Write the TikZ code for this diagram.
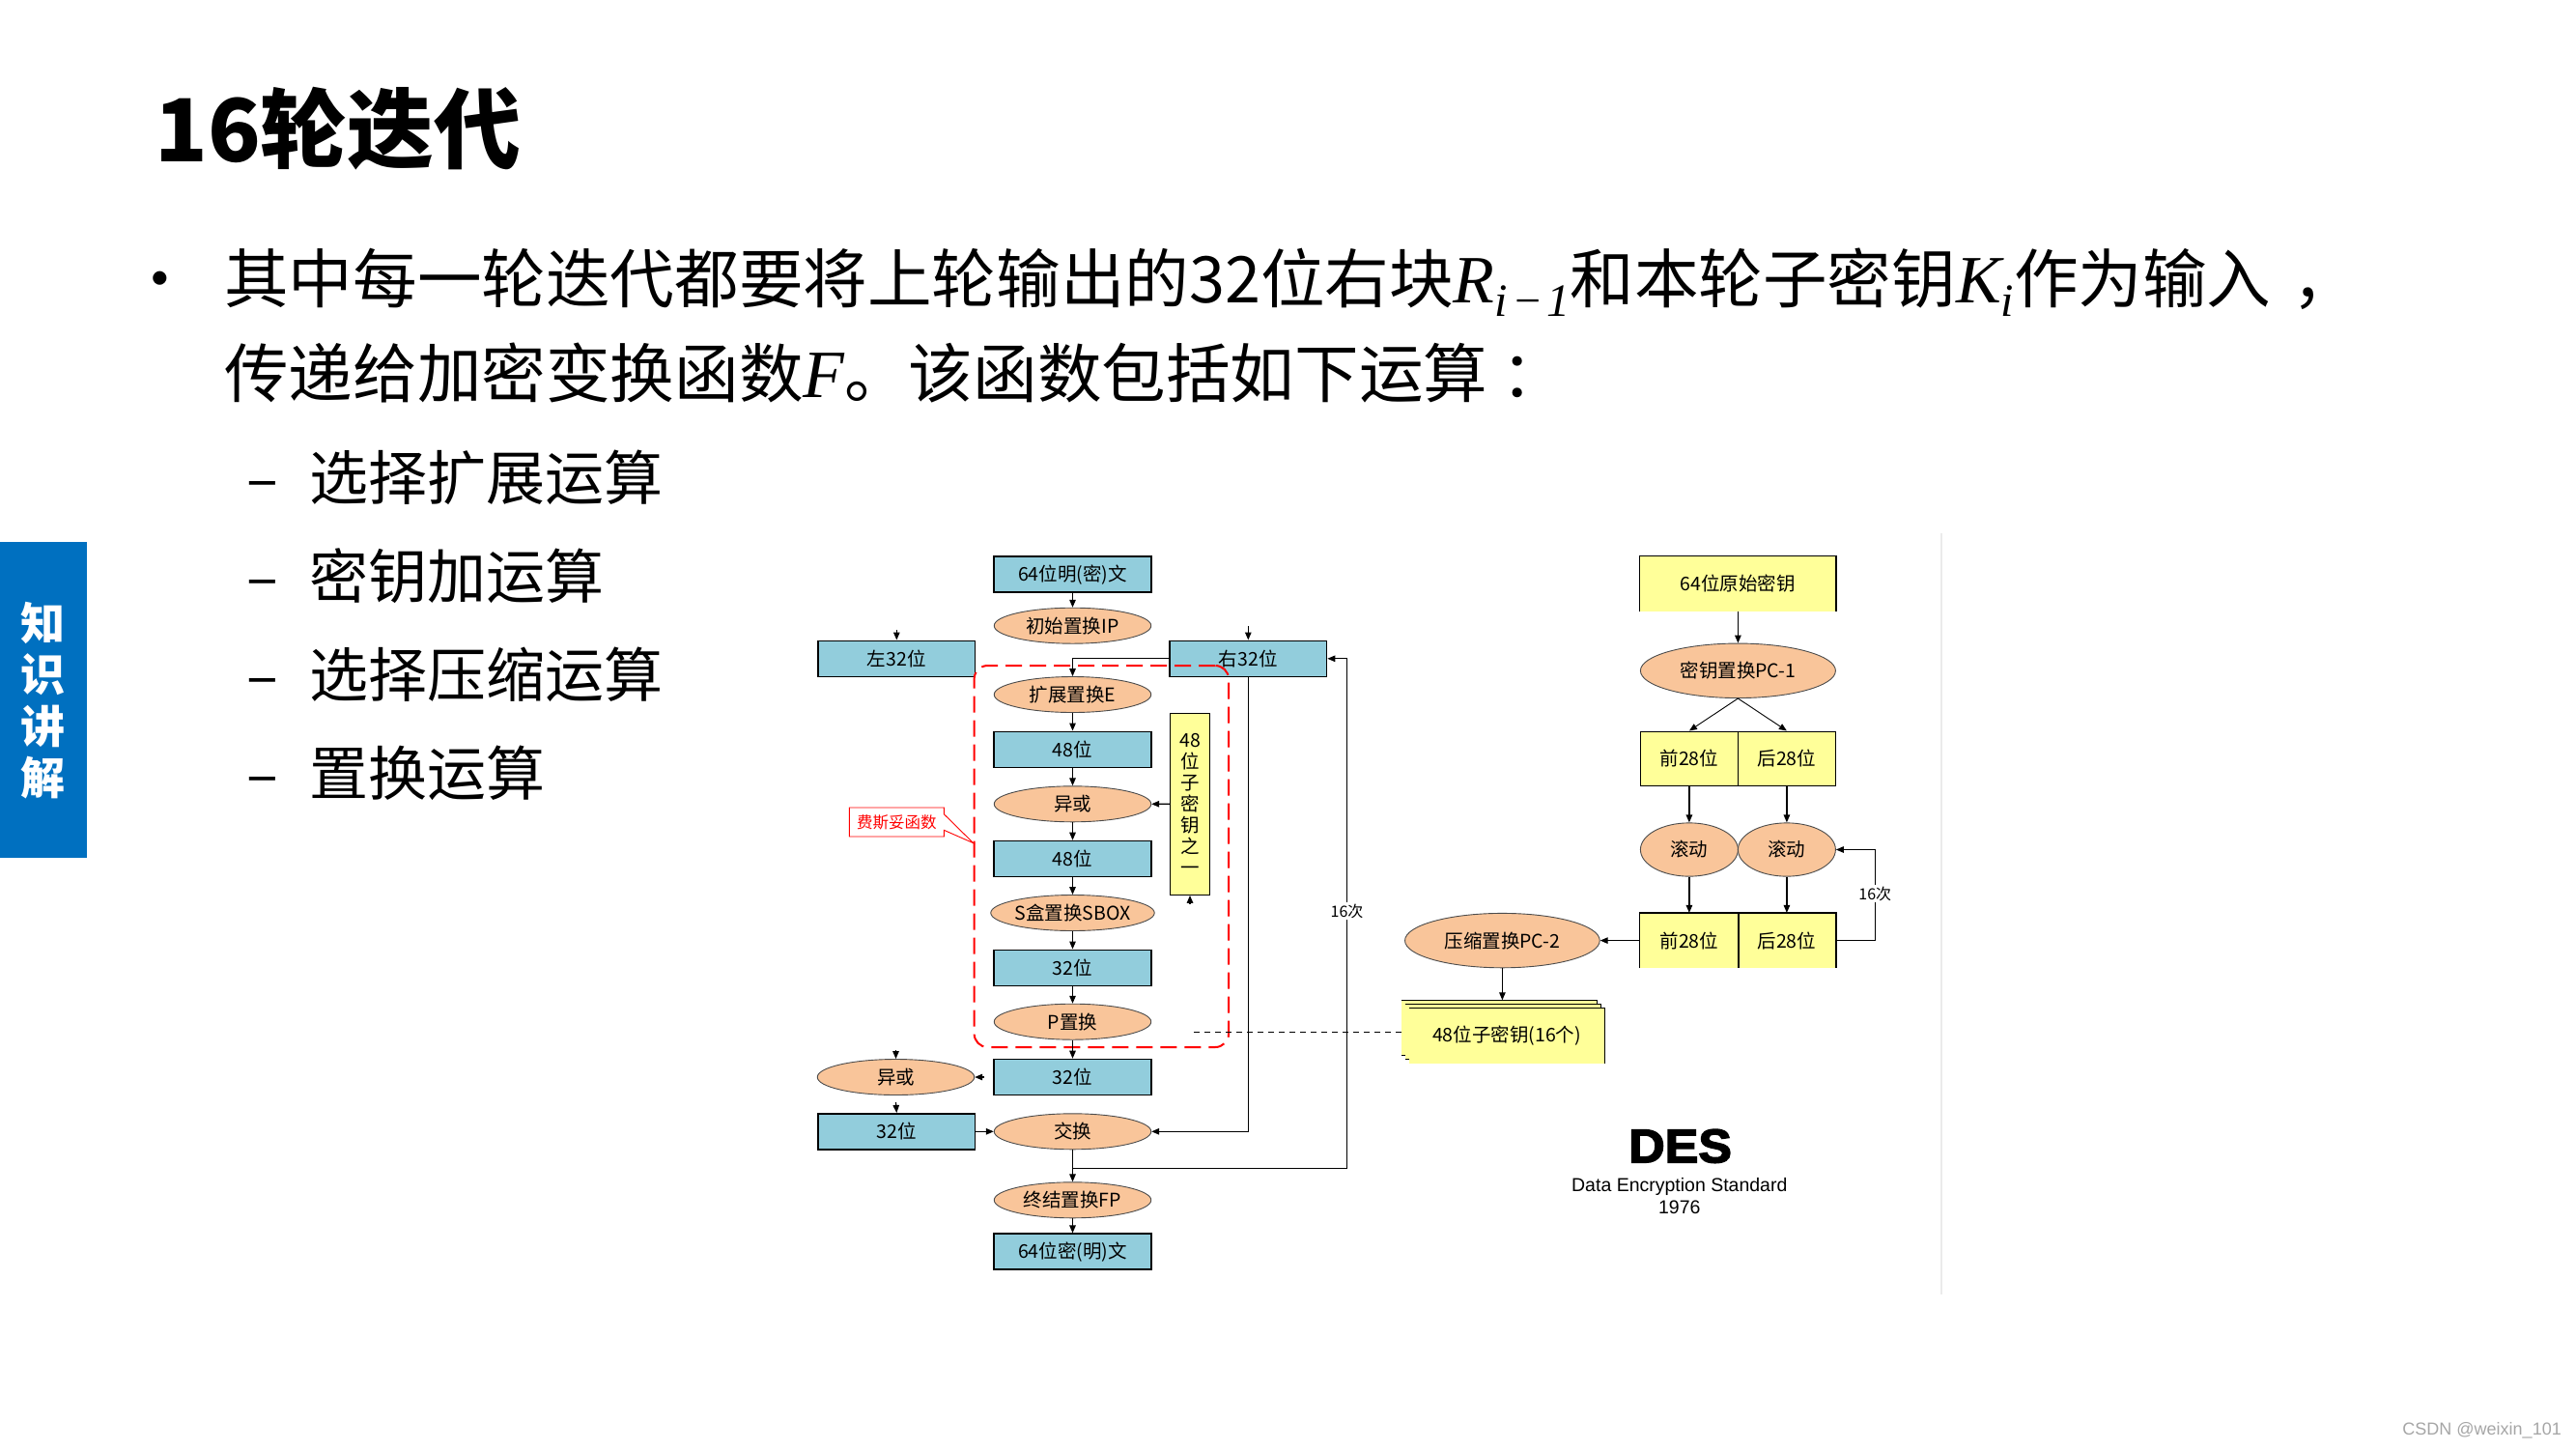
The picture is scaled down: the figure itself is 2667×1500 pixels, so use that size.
\documentclass[tikz,border=0pt]{standalone}
\usepackage{fontspec}
\setmainfont{Noto Sans CJK SC}
\newfontfamily\lsans{Liberation Sans}
\newfontfamily\lserif{Liberation Serif}
\newfontfamily\desfont{Liberation Sans}[FakeBold=3, FakeStretch=1.06]
\usetikzlibrary{shapes.geometric,arrows.meta}
\definecolor{boxblue}{HTML}{92CDDC}
\definecolor{peach}{HTML}{F9C59A}
\definecolor{keyyellow}{HTML}{FFFF99}
\definecolor{tabblue}{HTML}{0070C0}
\newcommand\dfont{\fontsize{19.5}{22}\selectfont}
\newcommand\lfont{\fontsize{16}{18}\selectfont}
\newcommand\mainfs{\fontsize{66.6}{79}\selectfont}
\newcommand\subfs{\fontsize{61}{72}\selectfont}
\newcommand\mvar[2]{{\lserif\itshape\fontsize{70}{79}\selectfont #1}\raisebox{-0.22em}{\lserif\itshape\fontsize{48}{50}\selectfont #2}}
\tikzset{
  bbox/.style={rectangle, draw=black, line width=1.6pt, fill=boxblue, minimum width=162.5pt, minimum height=37pt, inner sep=0pt, font=\dfont},
  oval/.style={ellipse, draw=black!70, line width=0.9pt, fill=peach, minimum width=162.5pt, minimum height=37pt, inner sep=0pt, font=\dfont},
  ybox/.style={rectangle, draw=black, line width=1.4pt, fill=keyyellow, minimum width=101pt, minimum height=56pt, inner sep=0pt, font=\dfont},
  yfill/.style={rectangle, fill=keyyellow, minimum width=202pt, minimum height=57pt, inner sep=0pt, font=\dfont},
  arr/.style={-{Triangle[length=8pt,width=6.5pt]}, line width=1.2pt},
  lab/.style={font=\lfont, fill=white, inner sep=1.5pt},
  txt/.style={anchor=base west, inner sep=0pt},
}
\begin{document}
\begin{tikzpicture}[x=1pt,y=-1pt]
\fill[white] (0,0) rectangle (2667,1500);
\useasboundingbox (0,0) rectangle (2667,1500);

% ---------- slide text ----------
\node[txt, font=\fontsize{90}{100}\selectfont\bfseries] (title) at (160,167) {16轮迭代};
\node[anchor=base, inner sep=0pt, font=\mainfs] (bul) at (166,313) {•};
\node[txt, font=\mainfs] (l1) at (232,313) {其中每一轮迭代都要将上轮输出的32位右块\mvar{R}{i\kern4pt−\kern4pt1}和本轮子密钥\mvar{K}{i}作为输入\hspace{22pt}，};
\node[txt, font=\mainfs] (l2) at (232,411) {传递给加密变换函数{\lserif\itshape\fontsize{70}{79}\selectfont F}。该函数包括如下运算\hspace{14pt}：};
\node[txt, font=\subfs] (d1) at (255,517) {–};
\node[txt, font=\subfs] (s1) at (320,517) {选择扩展运算};
\node[txt, font=\subfs] (d2) at (255,619) {–};
\node[txt, font=\subfs] (s2) at (320,619) {密钥加运算};
\node[txt, font=\subfs] (d3) at (255,721) {–};
\node[txt, font=\subfs] (s3) at (320,721) {选择压缩运算};
\node[txt, font=\subfs] (d4) at (255,823) {–};
\node[txt, font=\subfs] (s4) at (320,823) {置换运算};

% side tab
\fill[tabblue] (0,561) rectangle (89.5,888);
\node[text=white, font=\fontsize{46}{53.5}\selectfont\bfseries, align=center, inner sep=0pt] (tab) at (44.5,725) {知\\识\\讲\\解};

% image frame line
\draw[black!8, line width=1.5pt] (2010,552) -- (2010,1340);

% ---------- encryption flow ----------
\node[bbox] (p64) at (1110.5,594.7) {64位明(密)文};
\node[oval] (ip) at (1110.5,647.7) {初始置换IP};
\node[bbox] (L) at (928.3,681.8) {左32位};
\node[bbox] (R) at (1292.3,681.8) {右32位};
\node[oval] (E) at (1110.5,719) {扩展置换E};
\node[bbox] (b48a) at (1110.5,775.8) {48位};
\node[oval] (xor1) at (1110.5,832.3) {异或};
\node[bbox] (b48b) at (1110.5,889) {48位};
\node[oval] (sbox) at (1110.5,945) {S盒置换SBOX};
\node[bbox] (b32a) at (1110.5,1001.8) {32位};
\node[oval] (P) at (1110.5,1057.7) {P置换};
\node[bbox] (b32b) at (1110.5,1115) {32位};
\node[oval] (xor2) at (927.5,1115) {异或};
\node[bbox] (L32) at (928.3,1171.3) {32位};
\node[oval] (swap) at (1110.5,1171.3) {交换};
\node[oval] (fp) at (1110.5,1242.3) {终结置换FP};
\node[bbox] (c64) at (1110.5,1295.7) {64位密(明)文};

\node[rectangle, draw=black, line width=1.4pt, fill=keyyellow, minimum width=41pt, minimum height=188pt, inner sep=0pt, font=\dfont, align=center] (key48) at (1232,832.2) {48\\位\\子\\密\\钥\\之\\一};

% Feistel function frame
\node[draw=red, line width=2pt, dash pattern=on 17pt off 8pt, rounded corners=14pt, minimum width=263.5pt, minimum height=395pt, inner sep=0pt] (ff) at (1140.35,886.5) {};
\draw[red, line width=0.9pt, fill=white] (879.3,836) -- (977.3,836) -- (977.3,842.7) -- (1007.7,872.7) -- (977.3,859.3) -- (977.3,866) -- (879.3,866) -- cycle;
\node[text=red, font=\fontsize{16.5}{18}\selectfont, inner sep=0pt] (fei) at (928.3,851) {费斯妥函数};

% connectors
\coordinate (lin) at (928.3,652);
\coordinate (rin) at (1292.3,648);
\coordinate (kin) at (1232,936);
\coordinate (xin) at (927.5,1087);
\coordinate (xr) at (1019,1115);
\coordinate (xo) at (927.5,1141);
\coordinate (j) at (1110.5,1209.3);
\coordinate (jr) at (1394.6,1209.3);
\coordinate (dl) at (1232,1068.3);

\draw[arr] (p64) -- (ip);
\draw[arr] (lin) -- (L.north);
\draw[arr] (rin) -- (R.north);
\draw[arr] (R.west) -| (E.north);
\draw[arr] (E) -- (b48a);
\draw[arr] (b48a) -- (xor1);
\draw[arr] (xor1) -- (b48b);
\draw[arr] (b48b) -- (sbox);
\draw[arr] (sbox) -- (b32a);
\draw[arr] (b32a) -- (P);
\draw[arr] (P) -- (b32b);
\draw[arr] (key48.west) -- (xor1.east);
\draw[arr] (kin) -- (key48.south);
\draw[arr] (xr) -- (xor2.east);
\draw[arr] (xin) -- (xor2.north);
\draw[arr] (xo) -- (L32.north);
\draw[arr] (L32.east) -- (swap.west);
\draw[arr] (R.south) |- (swap.east);
\draw[arr] (swap) -- (fp);
\draw[arr] (fp) -- (c64);
\draw[arr] (j) -- (jr) |- (R.east);
\node[lab] (n16a) at (1394.6,943) {16次};

% ---------- key schedule ----------
\node[ybox, draw=none, minimum width=202pt, minimum height=56.5pt] (k64) at (1799.4,604.3) {64位原始密钥};
\draw[line width=1.4pt] (k64.south west) -- (k64.north west) -- (k64.north east) -- (k64.south east);
\node[oval, minimum width=202pt, minimum height=56.5pt] (pc1) at (1799.4,694.3) {密钥置换PC-1};
\node[ybox] (c1) at (1748.9,785.2) {前28位};
\node[ybox] (e1) at (1849.9,785.2) {后28位};
\node[oval, minimum width=101pt, minimum height=55.3pt] (r1) at (1748.9,879.5) {滚动};
\node[oval, minimum width=101pt, minimum height=55.3pt] (r2) at (1849.9,879.5) {滚动};
\node[ybox, draw=none] (c2) at (1748.9,973.6) {前28位};
\node[ybox, draw=none] (e2) at (1849.9,973.6) {后28位};
\draw[line width=1.4pt] (c2.south west) -- (c2.north west) -- (e2.north east) -- (e2.south east);
\draw[line width=1.4pt] (c2.north east) -- (c2.south east);
\node[oval, minimum width=201.7pt, minimum height=56.4pt] (pc2) at (1555.4,973.6) {压缩置换PC-2};

\node[yfill] (sk3) at (1552,1064) {};
\draw[line width=1.4pt] (sk3.north west) -- (sk3.north east) -- (sk3.south east) -- (sk3.south west);
\node[yfill] (sk2) at (1556,1068) {};
\draw[line width=1.4pt] (sk2.north west) -- (sk2.north east) -- (sk2.south east) -- (sk2.south west);
\node[yfill] (sk) at (1560,1072) {48位子密钥(16个)};
\draw[line width=1.4pt] (sk.north west) -- (sk.north east) -- (sk.south east);

\coordinate (kr) at (1941.3,973.6);
\draw[arr] (k64) -- (pc1);
\draw[arr, line width=0.9pt] (pc1.south) -- (c1.north);
\draw[arr, line width=0.9pt] (pc1.south) -- (e1.north);
\draw[arr] (c1) -- (r1);
\draw[arr] (e1) -- (r2);
\draw[arr] (r1) -- (c2);
\draw[arr] (r2) -- (e2);
\draw[arr] (c2.west) -- (pc2.east);
\draw[arr] (e2.east) -- (kr) |- (r2.east);
\node[lab] (n16b) at (1941.3,925) {16次};
\draw[arr] (pc2.south) -- (pc2.south |- sk3.north);
\draw[line width=1pt, dash pattern=on 6pt off 5pt] (sk3.west |- dl) -- (dl);

% DES caption
\node[anchor=base, inner sep=0pt, font=\desfont\bfseries\fontsize{49}{52}\selectfont] (des) at (1739.6,1203.3) {DES};
\node[anchor=base, inner sep=0pt, font=\lsans\fontsize{19.5}{22}\selectfont] (dest) at (1738.8,1233.3) {Data Encryption Standard};
\node[anchor=base, inner sep=0pt, font=\lsans\fontsize{19.5}{22}\selectfont] (year) at (1738.8,1256) {1976};

% watermark
\node[anchor=east, inner sep=0pt, text=black!35, font=\lsans\fontsize{18}{20}\selectfont] (wm) at (2652,1481) {CSDN @weixin\_101};
\end{tikzpicture}
\end{document}
